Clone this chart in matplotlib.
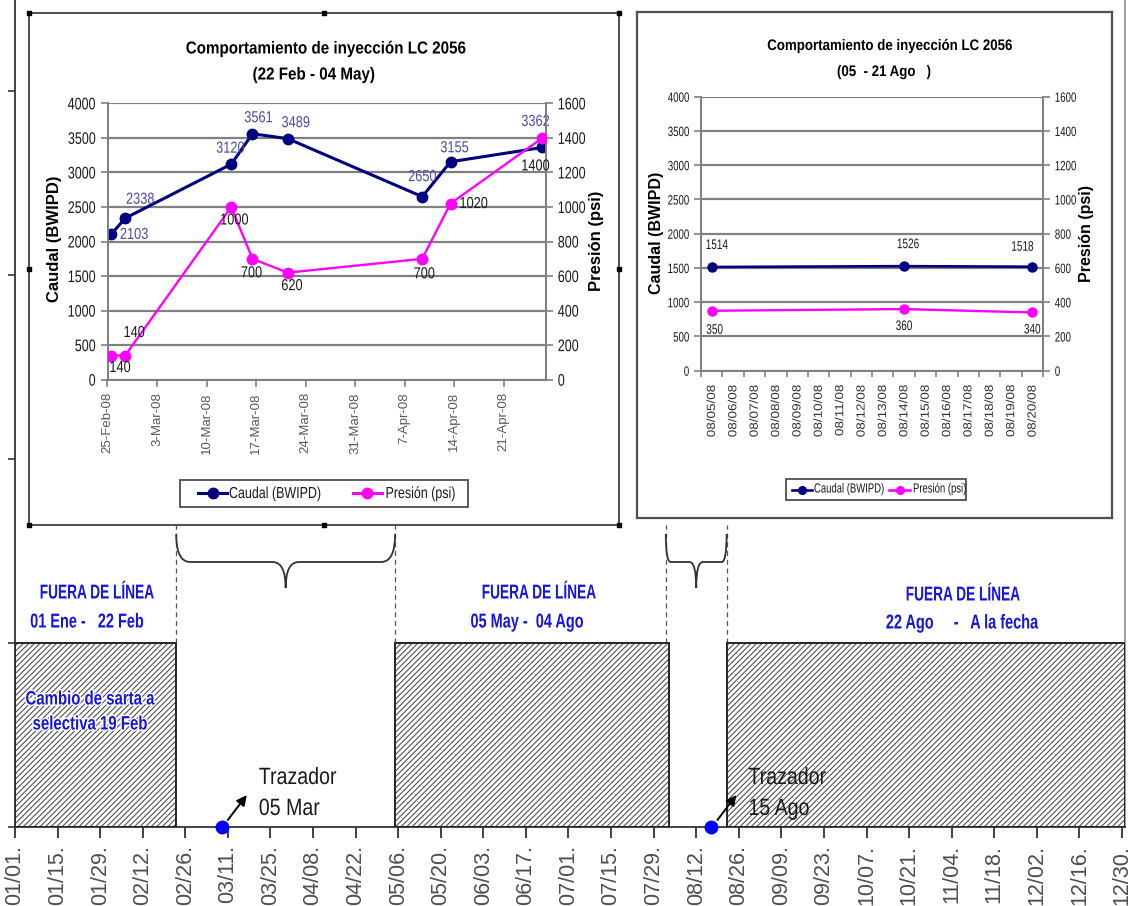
import numpy as np
import pandas as pd
import matplotlib
matplotlib.use("Agg")
import matplotlib.pyplot as plt
import matplotlib.dates as mdates
import matplotlib.transforms as mtransforms
import matplotlib.patheffects as pe
from matplotlib.path import Path
from matplotlib.patches import PathPatch, Rectangle
from matplotlib.lines import Line2D

# ---------------- data ----------------
# 2008 timeline: well out of line (hatched) and in line (braced)
off_start = ["2008-01-01", "2008-05-05", "2008-08-22"]
off_end = ["2008-02-23", "2008-08-03", "2008-12-31"]
on_start = ["2008-02-23", "2008-08-02"]
on_end = ["2008-05-05", "2008-08-22"]
off_titles = ["FUERA DE LÍNEA", "FUERA DE LÍNEA", "FUERA DE LÍNEA"]
off_ranges = ["01 Ene -   22 Feb", "05 May -  04 Ago", "22 Ago     -   A la fecha"]
note_lines = ["Cambio de sarta a", "selectiva 19 Feb"]
tracer_dates = ["2008-03-09", "2008-08-17"]
tracer_lines = [["Trazador", "05 Mar"], ["Trazador", "15 Ago"]]

# chart 1: injection 22 Feb - 04 May
c1_dates = ["2008-02-25", "2008-02-27", "2008-03-13", "2008-03-16",
            "2008-03-21", "2008-04-09", "2008-04-13", "2008-04-26"]
c1_caudal = [2103, 2338, 3120, 3561, 3489, 2650, 3155, 3362]
c1_presion = [140, 140, 1000, 700, 620, 700, 1020, 1400]

# chart 2: injection 05 - 21 Ago
c2_categories = ["08/05/08", "08/06/08", "08/07/08", "08/08/08", "08/09/08",
                 "08/10/08", "08/11/08", "08/12/08", "08/13/08", "08/14/08",
                 "08/15/08", "08/16/08", "08/17/08", "08/18/08", "08/19/08",
                 "08/20/08"]
c2_dates = ["08/05/08", "08/14/08", "08/20/08"]
c2_caudal = [1514, 1526, 1518]
c2_presion = [350, 360, 340]

legend_labels = ["Caudal (BWIPD)", "Presión (psi)"]

# ---------------- style ----------------
W, H = 1137, 906
plt.rcParams["font.family"] = ["Liberation Sans", "DejaVu Sans"]
plt.rcParams["hatch.linewidth"] = 0.7

NAVY = "#000080"
MAGENTA = "#ff00ff"
BLUE = "#1414e6"


class Squeeze(pe.AbstractPathEffect):
    """rescale glyphs in the text's own frame (no narrow font installed)"""

    def __init__(self, sx, sy=1.0, anchor="center", halo=None):
        super().__init__()
        self.sx, self.sy, self.anchor, self.halo = sx, sy, anchor, halo

    def draw_path(self, renderer, gc, tpath, affine, rgbFace=None):
        ext = tpath.get_extents()
        cx = {"left": 0.0, "right": ext.x1, "center": (ext.x0 + ext.x1) / 2}[self.anchor]
        cy = (ext.y0 + ext.y1) / 2
        tr = (mtransforms.Affine2D().translate(-cx, -cy)
              .scale(self.sx, self.sy).translate(cx, cy) + affine)
        if self.halo:
            gc0 = renderer.new_gc()
            gc0.copy_properties(gc)
            gc0.set_foreground(self.halo)
            gc0.set_linewidth(2.0)
            renderer.draw_path(gc0, tpath, tr, rgbFace)
            gc0.restore()
        renderer.draw_path(gc, tpath, tr, rgbFace)


def cz(sx, anchor="center", halo=None, sy=1.0):
    return [Squeeze(sx, sy, anchor, halo)]


def fbox(x0, y0, x1, y1):
    # pixel box (top-left origin) -> figure fraction rect
    return [x0 / W, 1 - y1 / H, (x1 - x0) / W, (y1 - y0) / H]


def fx(x):
    return x / W


def fy(y):
    return 1 - y / H


def ftext(x, y, s, **kw):
    fig.text(fx(x), fy(y), s, **kw)


def d2n(lst):
    return mdates.date2num(pd.to_datetime(lst))


fig = plt.figure(figsize=(W / 100, H / 100), dpi=100)

# ---------------- timeline ----------------
tl = fig.add_axes(fbox(15, 0, 1125, 827))
tl.set_xlim(d2n(["2008-01-01"])[0], d2n(["2008-12-31"])[0])
tl.set_ylim(0, 827 / 184)

xs, xe = d2n(off_start), d2n(off_end)
tl.bar(xs, 1, width=xe - xs, align="edge", color="white", edgecolor="#3c3c3c",
       hatch="//////", linewidth=0, zorder=2)
tl.bar(xs, 1, width=xe - xs, align="edge", fill=False, edgecolor="#262626",
       linewidth=1.4, zorder=3)

tick_dates = pd.date_range("2008-01-01", "2008-12-30", freq="14D")
tl.set_xticks(mdates.date2num(tick_dates))
tl.set_xticklabels([d.strftime("%m/%d.") for d in tick_dates], rotation=90,
                   fontsize=15.5, color="#4d4d4d")
tl.tick_params(axis="x", direction="out", length=8, width=1.3, color="#333333", pad=5)
tl.set_yticks([0, 1, 2, 3, 4])
tl.tick_params(axis="y", direction="out", length=5, width=1.2, color="#333333",
               labelleft=False)
tl.spines["top"].set_visible(False)
for s in ["left", "bottom"]:
    tl.spines[s].set_color("#333333")
    tl.spines[s].set_linewidth(1.3)
tl.spines["right"].set_color("#8c8c8c")
tl.spines["right"].set_linewidth(1.2)

# dashed markers of the in-line periods
for x in np.concatenate([d2n(on_start), d2n(on_end)]):
    tl.plot([x, x], [1, 1.64], color="#555555", lw=0.9, ls=(0, (4, 3)), zorder=1)


def brace(ax, x0, x1, y_top, y_mid, y_tip):
    w = x1 - x0
    r_end = max(0.064 * w, 1.6)
    r_tip = max(0.06 * w, 2.2)
    xc = (x0 + x1) / 2
    verts = [(x0, y_top), (x0, y_mid), (x0 + r_end, y_mid),
             (xc - r_tip, y_mid), (xc, y_mid), (xc, y_tip),
             (xc, y_mid), (xc + r_tip, y_mid),
             (x1 - r_end, y_mid), (x1, y_mid), (x1, y_top)]
    codes = [Path.MOVETO, Path.CURVE3, Path.CURVE3, Path.LINETO,
             Path.CURVE3, Path.CURVE3, Path.CURVE3, Path.CURVE3,
             Path.LINETO, Path.CURVE3, Path.CURVE3]
    ax.add_patch(PathPatch(Path(verts, codes), fill=False, lw=1.3,
                           ec="#333333", zorder=4, clip_on=False))


for a, b in zip(d2n(on_start), d2n(on_end)):
    brace(tl, a, b, (827 - 534) / 184, (827 - 562) / 184, (827 - 588) / 184)

# tracers
tx = d2n(tracer_dates)
tl.plot(tx, np.zeros(len(tx)), "o", color="#0000ff", ms=9, clip_on=False, zorder=6)
for x, lines in zip(tx, tracer_lines):
    tip = mtransforms.offset_copy(tl.transData, fig=fig, x=25, y=32, units="dots")
    tail = mtransforms.offset_copy(tl.transData, fig=fig, x=6, y=7, units="dots")
    tl.annotate("", xy=(x, 0), xycoords=tip, xytext=(x, 0), textcoords=tail,
                arrowprops=dict(arrowstyle="-|>", color="black", lw=1.4,
                                mutation_scale=15, shrinkA=0, shrinkB=0), zorder=6)
    for dy, s in zip([49, 18], lines):
        tl.annotate(s, (x, 0), xytext=(37, dy), textcoords="offset pixels",
                    ha="left", va="center", fontsize=17, color="#1a1a1a",
                    zorder=6, path_effects=cz(0.83, "left"))

# period texts
title_pos = [(97, 593), (539, 593), (963, 595)]
range_pos = [(87, 622), (527, 622), (962, 623)]
for (x, y), s in zip(title_pos, off_titles):
    ftext(x, y, s, ha="center", va="center", color=BLUE, fontsize=14.5,
          weight="bold", path_effects=cz(0.68))
for (x, y), s in zip(range_pos, off_ranges):
    ftext(x, y, s, ha="center", va="center", color=BLUE, fontsize=14.5,
          weight="bold", path_effects=cz(0.72))
for y, s in zip([700, 725], note_lines):
    ftext(90, y, s, ha="center", va="center", color=BLUE, fontsize=14,
          weight="bold", path_effects=cz(0.77, halo="white"))


# ---------------- helpers for the inset charts ----------------
def frame(box, ec, lw, handles=False):
    fr = fig.add_axes(fbox(*box))
    fr.set_xticks([])
    fr.set_yticks([])
    fr.set_facecolor("white")
    for s in fr.spines.values():
        s.set_color(ec)
        s.set_linewidth(lw)
    if handles:
        fr.scatter([0, 0.5, 1, 0, 1, 0, 0.5, 1], [0, 0, 0, 0.5, 0.5, 1, 1, 1],
                   marker="s", s=12, c="black", transform=fr.transAxes,
                   clip_on=False, zorder=5)
    return fr


def style_axes(ax, axr, ylab_size, sx, sy=1.0):
    ax.set_ylim(0, 4000)
    ax.set_yticks(np.arange(0, 4001, 500))
    axr.set_ylim(0, 1600)
    axr.set_yticks(np.arange(0, 1601, 200))
    ax.yaxis.grid(True, color="#808080", lw=1.6)
    ax.set_axisbelow(True)
    for a in (ax, axr):
        a.spines["top"].set_visible(False)
        for s in ["left", "right", "bottom"]:
            a.spines[s].set_color("#808080")
            a.spines[s].set_linewidth(1.4)
        a.tick_params(axis="y", direction="out", length=5, width=1.2,
                      color="#808080", labelsize=ylab_size, labelcolor="#1a1a1a")
    plt.setp(ax.get_yticklabels(), path_effects=cz(sx, "right", sy=sy))
    plt.setp(axr.get_yticklabels(), path_effects=cz(sx, "left", sy=sy))


def label_points(ax, x, y, offsets, color, size, sx):
    for xi, yi, (dx, dy) in zip(x, y, offsets):
        ax.annotate(f"{yi}", (xi, yi), xytext=(dx, -dy), textcoords="offset pixels",
                    ha="center", va="center", fontsize=size, color=color,
                    zorder=7, path_effects=cz(sx))


def manual_legend(box, y, line_x, text_x, lw, ms, size, sx):
    fig.add_artist(Rectangle((fx(box[0]), fy(box[3])), (box[2] - box[0]) / W,
                             (box[3] - box[1]) / H, transform=fig.transFigure,
                             facecolor="white", edgecolor="#404040", lw=1.2))
    for (a, b), tx0, col, lab in zip(line_x, text_x, [NAVY, MAGENTA], legend_labels):
        fig.add_artist(Line2D([fx(a), fx(b)], [fy(y), fy(y)], color=col, lw=lw,
                              transform=fig.transFigure))
        fig.add_artist(Line2D([fx((a + b) / 2)], [fy(y)], color=col, marker="o",
                              ms=ms, transform=fig.transFigure))
        ftext(tx0, y, lab, ha="left", va="center", fontsize=size, color="#1a1a1a",
              path_effects=cz(sx, "left"))


# ---------------- chart 1 ----------------
frame((29, 13, 619, 525), "#404040", 1.3, handles=True)
ax1 = fig.add_axes(fbox(107.5, 103.4, 546, 379.7))
ax1r = ax1.twinx()
style_axes(ax1, ax1r, 9, 1.0, sy=1.34)

x1 = d2n(c1_dates) + 0.5
ax1.set_xlim(d2n(["2008-02-25"])[0], d2n(["2008-04-27"])[0])
week_ticks = pd.date_range("2008-02-25", "2008-04-21", freq="7D")
ax1.set_xticks(mdates.date2num(week_ticks))
ax1.set_xticklabels([f"{d.day}-{d.strftime('%b-%y')}" for d in week_ticks],
                    rotation=90, fontsize=9.5, color="#595959")
ax1.tick_params(axis="x", direction="out", length=5, width=1.2, color="#808080", pad=4)

ax1.plot(x1, c1_caudal, "-o", color=NAVY, lw=2.2, ms=7.5, zorder=3)
ax1r.plot(x1, c1_presion, "-o", color=MAGENTA, lw=1.7, ms=7.5, zorder=3)

c1_caudal_off = [(23, 0), (15, -19), (-1, -16), (6, -16), (8, -16), (0, -20),
                 (4, -14), (-7, -26)]
c1_presion_off = [(9, 12), (9, -23), (3, 13), (-1, 14), (4, 13), (2, 15),
                  (23, 0), (-7, 28)]
label_points(ax1, x1, c1_caudal, c1_caudal_off, "#4b4ba8", 11.5, 0.8)
label_points(ax1r, x1, c1_presion, c1_presion_off, "#1a1a1a", 11.5, 0.8)

ftext(326, 49, "Comportamiento de inyección LC 2056", ha="center", va="center",
      fontsize=12.5, weight="bold", path_effects=cz(0.875))
ftext(314, 75, "(22 Feb - 04 May)", ha="center", va="center",
      fontsize=12.5, weight="bold", path_effects=cz(0.875))
ftext(55, 239, "Caudal (BWIPD)", rotation=90, ha="center", va="center",
      fontsize=12, weight="bold")
ftext(597, 241, "Presión (psi)", rotation=90, ha="center", va="center",
      fontsize=12, weight="bold")

manual_legend((180, 480, 468, 507), 493.5, [(198, 227), (353, 381.5)], [229, 385.5],
              2.2, 7.5, 11.5, 0.78)

# ---------------- chart 2 ----------------
frame((637, 12, 1112, 518), "#505050", 1.6)
ax2 = fig.add_axes(fbox(701, 96.7, 1043, 370.7))
ax2r = ax2.twinx()
style_axes(ax2, ax2r, 7.5, 0.93, sy=1.3)

x2 = [c2_categories.index(d) for d in c2_dates]
ax2.set_xlim(-0.5, len(c2_categories) - 0.5)
ax2.set_xticks(range(len(c2_categories)))
ax2.set_xticklabels(c2_categories, rotation=90, fontsize=10, color="#333333")
plt.setp(ax2.get_xticklabels(), path_effects=cz(0.97, "right", sy=0.85))
ax2.set_xticks(np.arange(-0.5, len(c2_categories)), minor=True)
ax2.tick_params(axis="x", which="major", length=0, pad=10)
ax2.tick_params(axis="x", which="minor", direction="out", length=4, width=1.2,
                color="#808080")

ax2.plot(x2, c2_caudal, "-o", color=NAVY, lw=1.9, ms=6.5, zorder=3)
ax2r.plot(x2, c2_presion, "-o", color=MAGENTA, lw=1.7, ms=6.5, zorder=3)
label_points(ax2, x2, c2_caudal, [(5, -22), (4, -22), (-10, -20)], "#1a1a1a", 10, 0.72)
label_points(ax2r, x2, c2_presion, [(3, 19), (0, 17), (0, 17)], "#1a1a1a", 10, 0.72)

ftext(890, 46, "Comportamiento de inyección LC 2056", ha="center", va="center",
      fontsize=11, weight="bold", path_effects=cz(0.87))
ftext(884, 72, "(05  - 21 Ago   )", ha="center", va="center",
      fontsize=11, weight="bold", path_effects=cz(0.87))
ftext(657, 233, "Caudal (BWIPD)", rotation=90, ha="center", va="center",
      fontsize=11.5, weight="bold")
ftext(1086, 233, "Presión (psi)", rotation=90, ha="center", va="center",
      fontsize=11.5, weight="bold")

manual_legend((786, 479, 966, 500), 489.5, [(792, 812), (889, 910)], [814, 913],
              1.9, 5.5, 9.5, 0.72)

fig.savefig("out.png", dpi=100)
